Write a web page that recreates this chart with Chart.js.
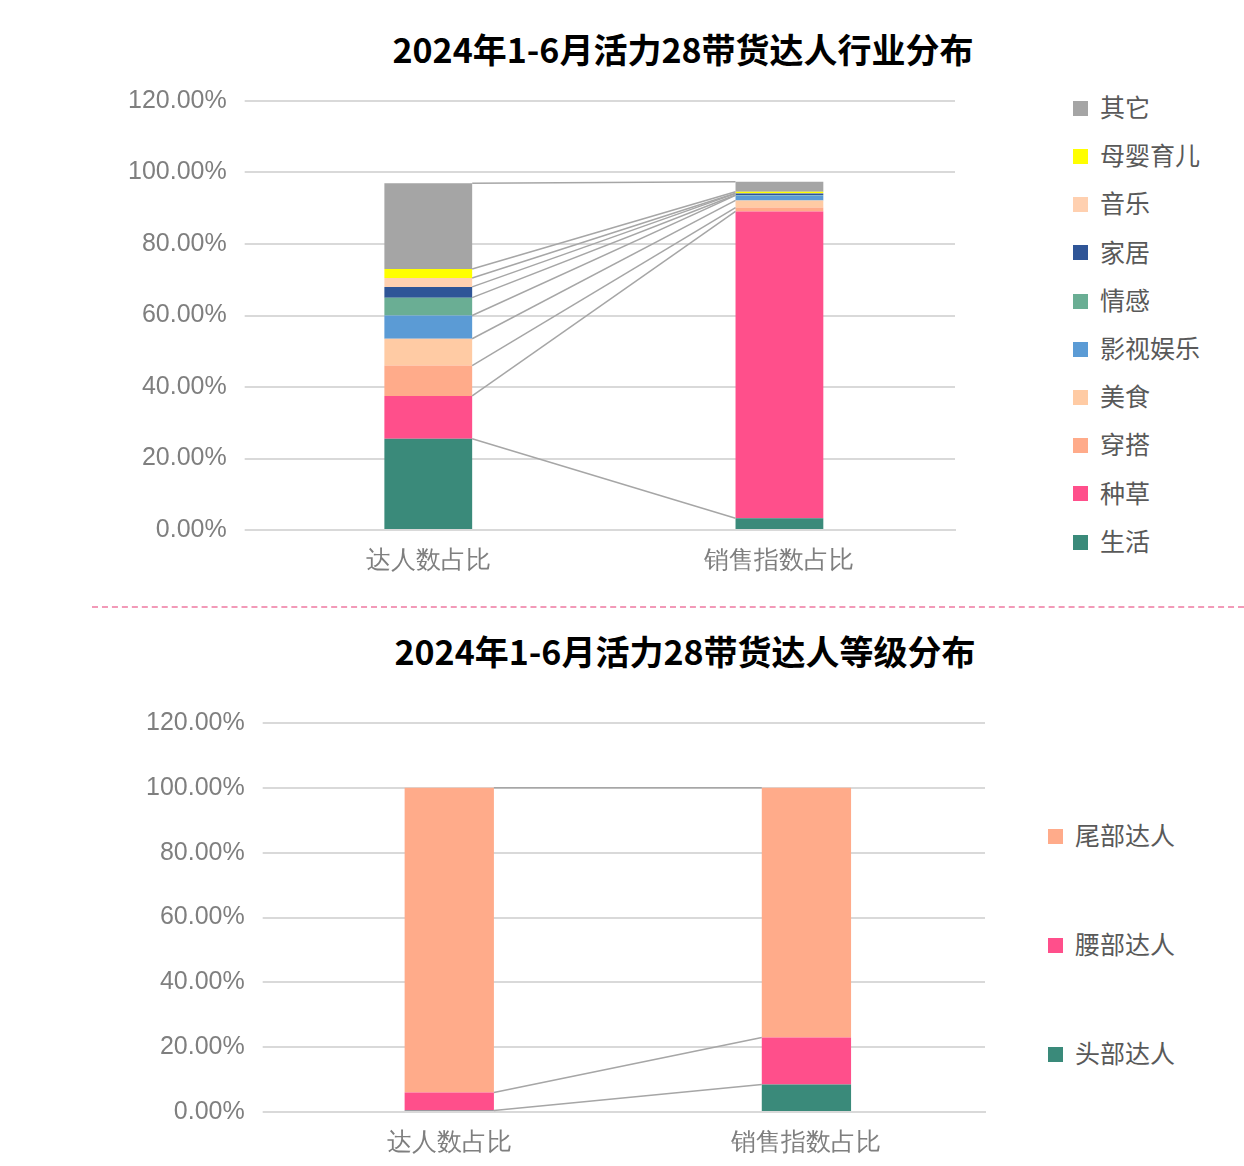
<!DOCTYPE html>
<html><head><meta charset="utf-8">
<script src="https://cdn.jsdelivr.net/npm/chart.js@4.4.1/dist/chart.umd.min.js"></script>
<style>
body{margin:0;width:1244px;height:1166px;background:#fff;position:relative;overflow:hidden;font-family:"Noto Sans CJK SC","Noto Sans",sans-serif}
.t{position:absolute;left:0;width:1366px;text-align:center;font-weight:bold;font-size:34px;color:#000}
.cv{position:absolute}
.lg{position:absolute;font-size:25px;color:#595959}
.lg div{position:absolute;white-space:nowrap}
.lg span{display:inline-block;width:15px;height:15px;margin-right:12px;vertical-align:middle;position:relative;top:-2px}
.sep{position:absolute;left:92px;right:0;top:606px;border-top:2px dashed #f29ab8}
</style></head><body>
<div class="t" style="top:24px">2024年1-6月活力28带货达人行业分布</div>
<div class="cv" style="left:102px;top:68px;width:868px;height:516px"><canvas id="c1"></canvas></div>
<div class="lg" id="lg1" style="left:1073px;top:88px"></div>
<div class="sep"></div>
<div class="t" style="top:626px;width:1370px">2024年1-6月活力28带货达人等级分布</div>
<div class="cv" style="left:102px;top:690px;width:898px;height:476px"><canvas id="c2"></canvas></div>
<div class="lg" id="lg2" style="left:1048px;top:816px"></div>
<script>
const cats = ['达人数占比', '销售指数占比'];
const industries = ['生活', '种草', '穿搭', '美食', '影视娱乐', '情感', '家居', '音乐', '母婴育儿', '其它'];
const industryColors = ['#3a8a7a', '#ff4f8b', '#ffab8a', '#ffcba4', '#5b9bd5', '#6aae94', '#2f5597', '#ffd0b0', '#ffff00', '#a5a5a5'];
const industryCount = [25.5, 12, 8.5, 7.5, 6.5, 5, 3, 2.5, 2.5, 24];
const industrySales = [3.3, 85.8, 1.1, 2, 1.4, 0.1, 0.4, 0.1, 0.4, 2.8];
const levels = ['头部达人', '腰部达人', '尾部达人'];
const levelColors = ['#3a8a7a', '#ff4f8b', '#ffab8a'];
const levelCount = [0.5, 5.5, 94];
const levelSales = [8.5, 14.5, 77];

const linker = {
  id: 'linker',
  afterDatasetsDraw(chart) {
    const ctx = chart.ctx;
    ctx.save();
    ctx.strokeStyle = '#a6a6a6';
    ctx.lineWidth = 1.5;
    chart.data.datasets.forEach((d, i) => {
      const m = chart.getDatasetMeta(i).data;
      const a = m[0], b = m[1];
      ctx.beginPath();
      ctx.moveTo(a.x + a.width / 2, a.y);
      ctx.lineTo(b.x - b.width / 2, b.y);
      ctx.stroke();
    });
    ctx.restore();
  }
};

function make(id, names, colors, v0, v1, pad) {
  new Chart(document.getElementById(id), {
    type: 'bar',
    data: { labels: cats, datasets: names.map((n, i) => ({ label: n, data: [v0[i], v1[i]], backgroundColor: colors[i], barPercentage: 0.25, categoryPercentage: 1 })) },
    options: {
      responsive: true, maintainAspectRatio: false, animation: false,
      layout: { padding: pad },
      plugins: { legend: { display: false }, tooltip: { enabled: false } },
      scales: {
        x: { stacked: true, grid: { display: false }, border: { color: '#d9d9d9', width: 2 }, ticks: { color: '#7f7f7f', font: { size: 25 }, padding: 8 } },
        y: { stacked: true, min: 0, max: 120, grid: { color: '#d9d9d9', lineWidth: 2 }, border: { display: false },
             ticks: { stepSize: 20, color: '#7f7f7f', font: { size: 25 }, padding: 18, callback: v => v.toFixed(2) + '%' } }
      }
    },
    plugins: [linker]
  });
}
make('c1', industries, industryColors, industryCount, industrySales, { left: 8, top: 10, right: 15 });
make('c2', levels, levelColors, levelCount, levelSales, { left: 26, top: 12, right: 15 });

function legend(id, names, colors, gap) {
  const el = document.getElementById(id);
  names.slice().reverse().forEach((n, k) => {
    const i = names.length - 1 - k;
    const d = document.createElement('div');
    d.style.top = (k * gap) + 'px';
    d.innerHTML = '<span style="background:' + colors[i] + '"></span>' + n;
    el.appendChild(d);
  });
}
legend('lg1', industries, industryColors, 48.2);
legend('lg2', levels, levelColors, 109);
</script>
</body></html>
